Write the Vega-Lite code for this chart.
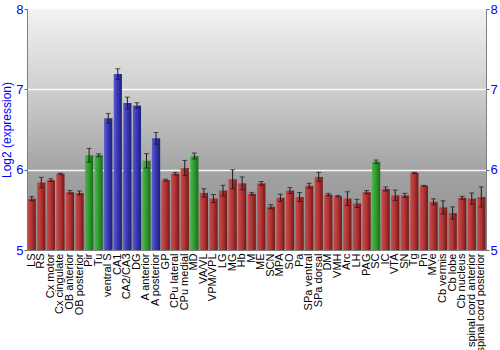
{
  "$schema": "https://vega.github.io/schema/vega-lite/v6.json",
  "autosize": "none",
  "width": 459,
  "height": 241,
  "padding": {"left": 27, "top": 9, "right": 14, "bottom": 100},
  "background": "white",
  "config": {
    "font": "Liberation Sans",
    "view": {
      "stroke": "#808080",
      "strokeWidth": 1,
      "fill": {"gradient": "linear", "x1": 0, "y1": 0, "x2": 0, "y2": 1,
        "stops": [
          {"offset": 0, "color": "#f2f2f2"},
          {"offset": 0.33, "color": "#cfcfcf"},
          {"offset": 0.66, "color": "#a4a4a4"},
          {"offset": 1, "color": "#8a8a8a"}
        ]}
    }
  },
  "data": {"values": [
    {"name": "LS", "v": 5.64, "e": 0.025, "g": "red"},
    {"name": "RS", "v": 5.84, "e": 0.065, "g": "red"},
    {"name": "Cx motor", "v": 5.87, "e": 0.017, "g": "red"},
    {"name": "Cx cingulate", "v": 5.95, "e": 0.006, "g": "red"},
    {"name": "OB anterior", "v": 5.72, "e": 0.02, "g": "red"},
    {"name": "OB posterior", "v": 5.71, "e": 0.025, "g": "red"},
    {"name": "Pir", "v": 6.18, "e": 0.085, "g": "green"},
    {"name": "Tu", "v": 6.18, "e": 0.017, "g": "green"},
    {"name": "ventral S", "v": 6.64, "e": 0.06, "g": "blue"},
    {"name": "CA1", "v": 7.19, "e": 0.066, "g": "blue"},
    {"name": "CA2/CA3", "v": 6.83, "e": 0.073, "g": "blue"},
    {"name": "DG", "v": 6.8, "e": 0.033, "g": "blue"},
    {"name": "A anterior", "v": 6.11, "e": 0.09, "g": "green"},
    {"name": "A posterior", "v": 6.39, "e": 0.073, "g": "blue"},
    {"name": "GP", "v": 5.87, "e": 0.012, "g": "red"},
    {"name": "CPu lateral", "v": 5.95, "e": 0.015, "g": "red"},
    {"name": "CPu medial", "v": 6.02, "e": 0.095, "g": "red"},
    {"name": "MD", "v": 6.17, "e": 0.037, "g": "green"},
    {"name": "VA/VL", "v": 5.71, "e": 0.052, "g": "red"},
    {"name": "VPM/VPL", "v": 5.64, "e": 0.05, "g": "red"},
    {"name": "LG", "v": 5.74, "e": 0.066, "g": "red"},
    {"name": "MG", "v": 5.88, "e": 0.118, "g": "red"},
    {"name": "Hb", "v": 5.83, "e": 0.08, "g": "red"},
    {"name": "M", "v": 5.7, "e": 0.017, "g": "red"},
    {"name": "ME", "v": 5.83, "e": 0.023, "g": "red"},
    {"name": "SCN", "v": 5.54, "e": 0.025, "g": "red"},
    {"name": "MPA", "v": 5.65, "e": 0.044, "g": "red"},
    {"name": "SO", "v": 5.74, "e": 0.037, "g": "red"},
    {"name": "Pa", "v": 5.66, "e": 0.056, "g": "red"},
    {"name": "SPa ventral", "v": 5.8, "e": 0.03, "g": "red"},
    {"name": "SPa dorsal", "v": 5.91, "e": 0.056, "g": "red"},
    {"name": "DM", "v": 5.69, "e": 0.015, "g": "red"},
    {"name": "VMH", "v": 5.67, "e": 0.008, "g": "red"},
    {"name": "Arc", "v": 5.64, "e": 0.085, "g": "red"},
    {"name": "LH", "v": 5.58, "e": 0.05, "g": "red"},
    {"name": "PAG", "v": 5.72, "e": 0.02, "g": "red"},
    {"name": "SC", "v": 6.1, "e": 0.02, "g": "green"},
    {"name": "IC", "v": 5.76, "e": 0.025, "g": "red"},
    {"name": "VTA", "v": 5.68, "e": 0.066, "g": "red"},
    {"name": "SN", "v": 5.68, "e": 0.025, "g": "red"},
    {"name": "Tg", "v": 5.96, "e": 0.008, "g": "red"},
    {"name": "Pn", "v": 5.8, "e": 0.004, "g": "red"},
    {"name": "MVe", "v": 5.6, "e": 0.037, "g": "red"},
    {"name": "Cb vermis", "v": 5.53, "e": 0.083, "g": "red"},
    {"name": "Cb lobe", "v": 5.46, "e": 0.077, "g": "red"},
    {"name": "Cb nucleus", "v": 5.65, "e": 0.019, "g": "red"},
    {"name": "spinal cord anterior", "v": 5.64, "e": 0.07, "g": "red"},
    {"name": "spinal cord posterior", "v": 5.66, "e": 0.125, "g": "red"}
  ]},
  "encoding": {
    "x": {"field": "name", "type": "nominal", "sort": null,
      "scale": {"paddingInner": 0.14, "paddingOuter": 0.06},
      "axis": {"title": null, "labelAngle": -90, "labelFontSize": 11, "labelColor": "#000000",
        "ticks": false, "labelPadding": 3, "domainColor": "#808080", "labelFont": "Liberation Sans"}}
  },
  "layer": [
    {
      "mark": {"type": "bar"},
      "encoding": {
        "y": {"field": "v", "type": "quantitative",
          "scale": {"domain": [5, 8], "nice": false, "zero": false},
          "axis": {"title": "Log2 (expression)", "titleColor": "#0000ff", "titleFontSize": 12,
            "titleFontWeight": "normal", "titlePadding": 2, "labelColor": "#0000ff", "labelFontSize": 13,
            "values": [5, 6, 7, 8], "tickSize": 3, "tickColor": "#606060", "labelPadding": 1,
            "domainColor": "#808080", "gridColor": "#ffffff", "gridOpacity": 0.9, "gridWidth": 1.5}},
        "y2": {"datum": 5},
        "fill": {
          "condition": [
            {"test": "datum.g === 'green'", "value": {"gradient": "linear", "x1": 0, "y1": 0, "x2": 1, "y2": 0,
              "stops": [{"offset": 0, "color": "#4cb84c"}, {"offset": 0.5, "color": "#2e9a2e"}, {"offset": 1, "color": "#1c6a1c"}]}},
            {"test": "datum.g === 'blue'", "value": {"gradient": "linear", "x1": 0, "y1": 0, "x2": 1, "y2": 0,
              "stops": [{"offset": 0, "color": "#5a5ad6"}, {"offset": 0.5, "color": "#3636b0"}, {"offset": 1, "color": "#1e1e7a"}]}}
          ],
          "value": {"gradient": "linear", "x1": 0, "y1": 0, "x2": 1, "y2": 0,
            "stops": [{"offset": 0, "color": "#c84c4c"}, {"offset": 0.5, "color": "#b03434"}, {"offset": 1, "color": "#701818"}]}
        }
      }
    },
    {
      "mark": {"type": "errorbar", "ticks": {"size": 5}, "color": "#1a1a1a", "thickness": 1},
      "encoding": {
        "y": {"field": "v", "type": "quantitative", "axis": null},
        "yError": {"field": "e"}
      }
    },
    {
      "mark": {"type": "point", "opacity": 0},
      "encoding": {
        "y": {"field": "v", "type": "quantitative",
          "axis": {"orient": "right", "title": null, "grid": false, "labelColor": "#0000ff", "labelFontSize": 13,
            "values": [5, 6, 7, 8], "tickSize": 3, "tickColor": "#606060", "labelPadding": 1, "domainColor": "#808080"}}
      }
    }
  ],
  "resolve": {"scale": {"y": "shared"}, "axis": {"y": "independent"}}
}
